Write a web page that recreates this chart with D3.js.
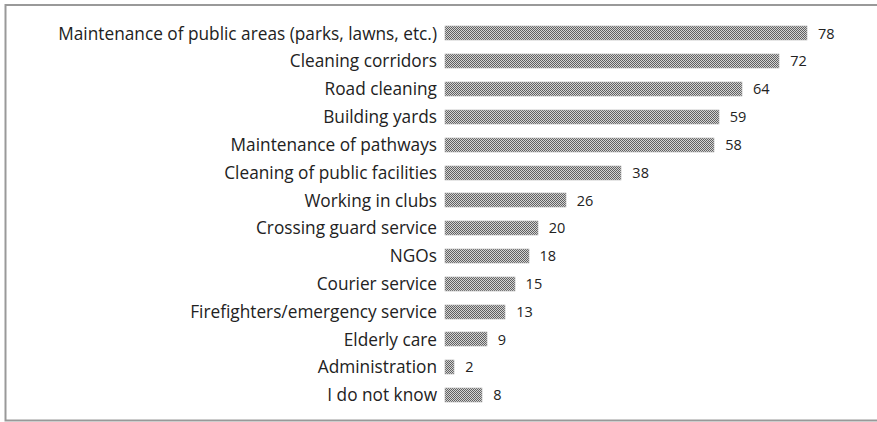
<!DOCTYPE html>
<html><head><meta charset="utf-8">
<script src="https://cdn.jsdelivr.net/npm/d3@7"></script>
<style>body{margin:0;background:#fff}svg{display:block}</style>
</head><body>
<script>
const categories = ["Maintenance of public areas (parks, lawns, etc.)","Cleaning corridors","Road cleaning","Building yards","Maintenance of pathways","Cleaning of public facilities","Working in clubs","Crossing guard service","NGOs","Courier service","Firefighters/emergency service","Elderly care","Administration","I do not know"];
const values = [78,72,64,59,58,38,26,20,18,15,13,9,2,8];

const W = 877, H = 422;
const svg = d3.select("body").append("svg").attr("width", W).attr("height", H);

const defs = svg.append("defs");
const pat = defs.append("pattern").attr("id","chk").attr("patternUnits","userSpaceOnUse").attr("width",2).attr("height",2);
pat.append("rect").attr("width",2).attr("height",2).attr("fill","#d4d4d4");
pat.append("rect").attr("width",1).attr("height",1).attr("fill","#606060");
pat.append("rect").attr("x",1).attr("y",1).attr("width",1).attr("height",1).attr("fill","#606060");

svg.append("rect").attr("x",5.5).attr("y",5).attr("width",900).attr("height",415.5)
  .attr("fill","none").attr("stroke","#999").attr("stroke-width",2);

const x = d3.scaleLinear().domain([0,78]).range([445,807]);
const y = d3.scaleBand().domain(categories).range([19.5,409]).paddingInner(0.5).paddingOuter(0.25);

const data = categories.map((c,i)=>({c, v: values[i]}));

svg.selectAll("rect.bar").data(data).join("rect").attr("class","bar")
  .attr("x", x(0)).attr("y", d=>Math.round(y(d.c))).attr("width", d=>Math.round(x(d.v)-x(0))).attr("height", Math.round(y.bandwidth()))
  .attr("fill","url(#chk)").attr("stroke","#aaa").attr("stroke-width",0.6);

svg.selectAll("text.val").data(data).join("text").attr("class","val")
  .attr("x", d=>x(d.v)+11).attr("y", d=>y(d.c)+y.bandwidth()/2).attr("dy","0.36em")
  .attr("font-family","'Open Sans', sans-serif").attr("font-size",14.5).attr("fill","#222")
  .text(d=>d.v);

const yAxis = d3.axisLeft(y).tickSize(0).tickPadding(0);
const g = svg.append("g").attr("transform","translate(437,0)").call(yAxis);
g.select(".domain").remove();
const labels = g.selectAll("text").attr("font-family","'Open Sans', sans-serif").attr("font-size",16).attr("fill","#222").attr("dy","0.36em");
// fit longest label to the reference width
const w0 = labels.nodes()[0].getComputedTextLength();
labels.attr("font-size", 16 * 379 / w0);
</script>
</body></html>
